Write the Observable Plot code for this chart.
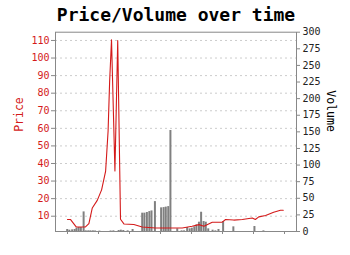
<!DOCTYPE html>
<html>
<head>
<meta charset="utf-8">
<script src="https://cdn.jsdelivr.net/npm/d3@7"></script>
<script src="https://cdn.jsdelivr.net/npm/@observablehq/plot@0.6"></script>
<style>
  html, body { margin: 0; padding: 0; background: #fff; }
</style>
</head>
<body>
<div id="chart"></div>
<script>
// Time in periods (tick every 10 units), price and volume readings
const priceT = [0, 1.0, 2.8, 5.8, 6.9, 8.0, 9.6, 11.0, 12.3, 13.1, 13.6, 14.2, 15.3, 16.2, 17.1, 18.2, 21.4, 24.1, 28.4, 37.0, 40.2, 42.4, 44.0, 46.7, 49.9, 51.0, 53.6, 56.4, 59.6, 60.6, 61.7, 63.9, 66.5, 68.7, 69.6];
const priceV = [8.1, 8.1, 3.9, 3.9, 5.8, 14.7, 19, 25, 35.7, 58.6, 87, 110.4, 35.7, 110, 8.3, 5.6, 5.3, 3.9, 3.3, 3.3, 4.3, 5.2, 4.3, 6.6, 6.6, 8.1, 7.8, 8.1, 9, 8.1, 9.6, 10.4, 12.3, 13.4, 13.4];
const volT = [-0.1, 0.6, 1.5, 2.3, 2.9, 3.6, 4.3, 5.2, 5.9, 6.7, 7.4, 8.2, 8.9, 10.3, 13.9, 14.8, 16.5, 17.2, 18.0, 19.4, 21.0, 24.1, 24.8, 25.6, 26.4, 27.1, 28.2, 30.2, 31.0, 31.7, 32.5, 33.2, 35.4, 36.8, 37.6, 38.6, 39.4, 40.1, 40.9, 41.6, 42.4, 43.1, 43.9, 44.6, 45.4, 46.8, 47.7, 48.7, 50.2, 53.5, 60.3, 63.2];
const volV = [3, 2, 2.5, 3, 5, 6, 6, 29.5, 1, 1, 1, 1, 0.8, 0.6, 0.8, 1, 1.5, 2, 1.5, 1, 3, 27.6, 27.6, 28.6, 30, 31, 45, 35.6, 36, 36.7, 37.5, 152, 4, 1, 1, 6, 4, 5, 7, 10, 14, 29, 15, 14, 4, 2, 1, 3, 15, 7, 7.5, 1];
const priceTicks = [10, 20, 30, 40, 50, 60, 70, 80, 90, 100, 110];
const volTicks = [0, 25, 50, 75, 100, 125, 150, 175, 200, 225, 250, 275, 300];
const timeTicks = [0, 10, 20, 30, 40, 50, 60, 70];

const priceDomain = [1.3, 114.7];
const volDomain = [0, 300];
const toPrice = v => priceDomain[0] + (v - volDomain[0]) / (volDomain[1] - volDomain[0]) * (priceDomain[1] - priceDomain[0]);
const toVol = p => volDomain[0] + (p - priceDomain[0]) / (priceDomain[1] - priceDomain[0]) * (volDomain[1] - volDomain[0]);

const priceData = priceT.map((t, i) => ({t, v: priceV[i]}));
const volData = volT.map((t, i) => ({t, v: volV[i]}));

const red = "#d41a1a";
const font = "DejaVu Sans Mono";

const chart = Plot.plot({
  width: 350,
  height: 255,
  marginTop: 31.7,
  marginBottom: 24,
  marginLeft: 55,
  marginRight: 54,
  style: {fontFamily: font, fontSize: "10px", background: "#fff", color: "#222"},
  x: {domain: [-3.87, 73.87], axis: null},
  y: {domain: priceDomain, axis: null},
  marks: [
    Plot.gridY(priceTicks, {stroke: "#ccc", strokeOpacity: 1, strokeDasharray: "2,3"}),
    Plot.ruleX(volData, {x: "t", y1: () => toPrice(0), y2: d => toPrice(d.v), stroke: "#808080", strokeWidth: 2}),
    Plot.line(priceData, {x: "t", y: "v", stroke: red, strokeWidth: 1.1}),
    Plot.frame({stroke: "#888"}),
    Plot.axisY(priceTicks, {anchor: "left", tickSize: 4, tickPadding: 2, stroke: "#888", fill: red, label: null, fontSize: 10}),
    Plot.axisY(volTicks.map(toPrice), {anchor: "right", tickSize: 3, tickPadding: 3, stroke: "#888", fill: "#222", label: null, fontSize: 10, tickFormat: d => String(Math.round(toVol(d)))}),
    Plot.axisX(timeTicks, {anchor: "bottom", tickSize: 3, stroke: "#888", tickFormat: () => "", label: null}),
    Plot.text(["Price/Volume over time"], {frameAnchor: "top", dy: -11, lineAnchor: "bottom", fontSize: 18, fontWeight: "bold", fill: "#000", fontFamily: font}),
    Plot.text(["Price"], {frameAnchor: "left", dx: -36.5, rotate: -90, fontSize: 11.5, fill: red, fontFamily: font}),
    Plot.text(["Volume"], {frameAnchor: "right", dx: 34.5, rotate: 90, fontSize: 11.5, fill: "#000", fontFamily: font})
  ]
});
document.getElementById("chart").appendChild(chart);
</script>
</body>
</html>
